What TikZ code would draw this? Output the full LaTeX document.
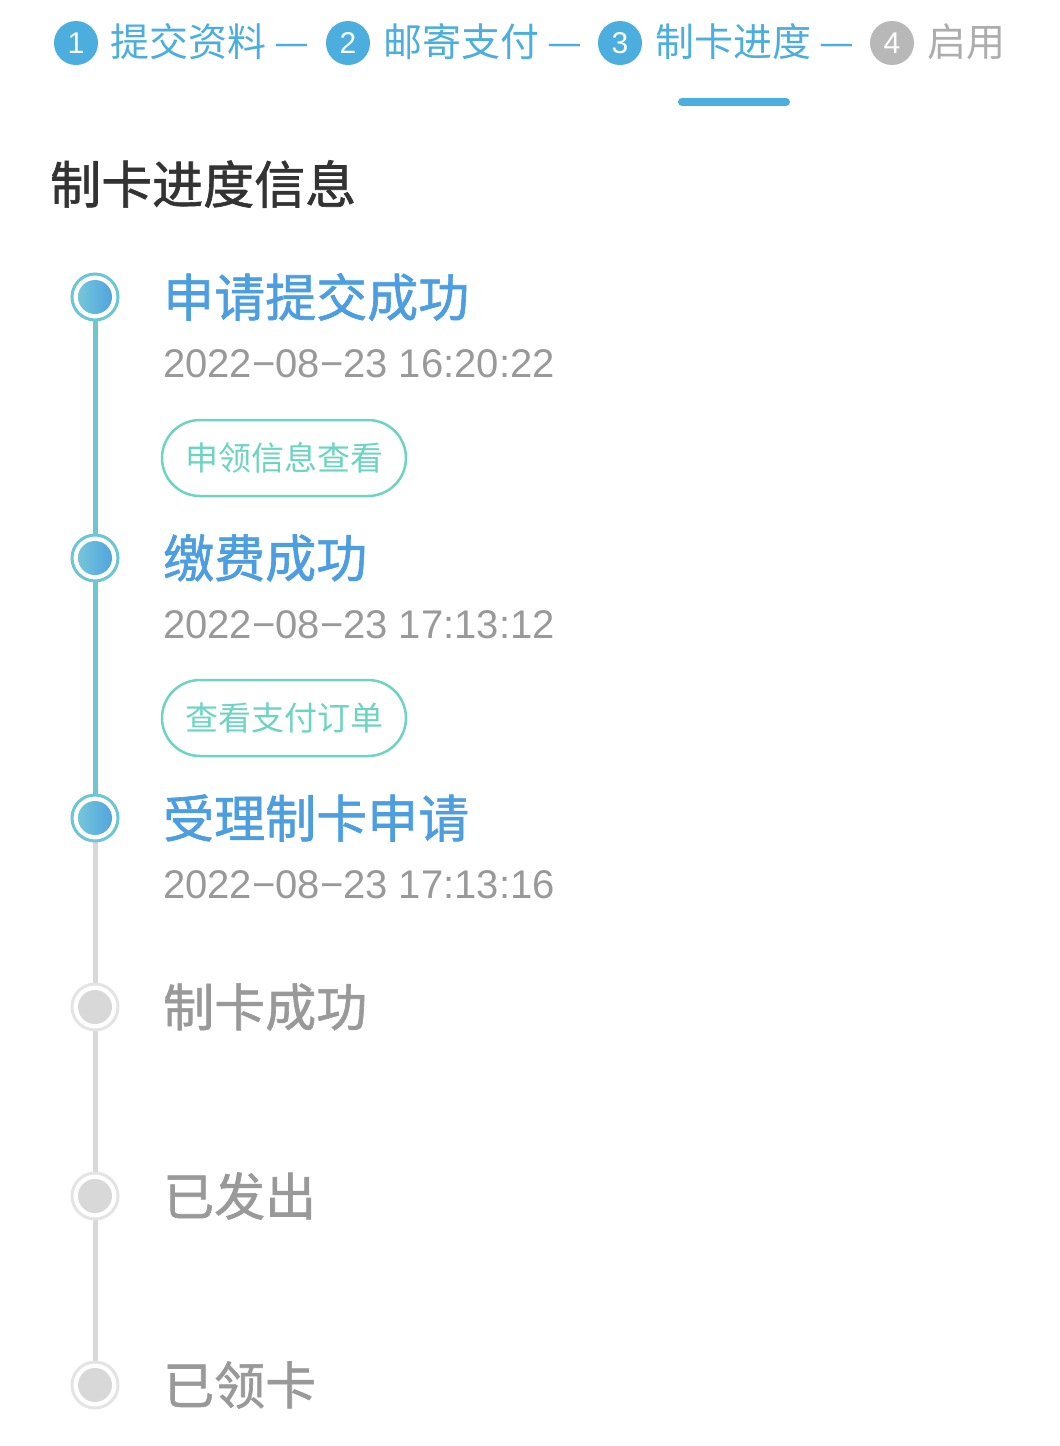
\documentclass[tikz,border=0pt]{standalone}
\usepackage{fontspec}
\setmainfont{Noto Sans CJK SC}
\newfontfamily\med[FakeBold=1.2]{Noto Sans CJK SC}
\newfontfamily\latn{Liberation Sans}
\definecolor{stepblue}{HTML}{4BAEDE}
\definecolor{titleblue}{HTML}{4C9EE0}
\definecolor{teal}{HTML}{6CC6D4}
\definecolor{btn}{HTML}{6DD4C2}
\definecolor{gtxt}{HTML}{999999}
\definecolor{gline}{HTML}{D8D8D8}
\definecolor{head}{HTML}{333333}
\begin{document}
\begin{tikzpicture}[x=1pt,y=-1pt,
 stepnum/.style={circle,fill=#1,minimum size=44pt,inner sep=0pt,text=white,font=\latn\fontsize{30}{30}\selectfont},
 steplbl/.style={anchor=west,inner sep=0pt,font=\fontsize{39}{39}\selectfont,text=#1},
 ttl/.style={anchor=west,inner sep=0pt,font=\med\fontsize{51}{51}\selectfont,text=#1},
 tstamp/.style={anchor=west,inner sep=0pt,font=\latn\fontsize{40}{40}\selectfont,text=gtxt},
 pill/.style={draw=btn,line width=2.5pt,rounded corners=38pt,minimum width=244pt,minimum height=76pt,text=btn,font=\fontsize{33}{33}\selectfont,inner sep=0pt},
 dotdone/.style={circle,draw=teal,line width=3pt,fill=white,minimum size=46pt,inner sep=0pt,path picture={\shade[left color=teal!90!white,right color=titleblue] (path picture bounding box.center) circle (17pt);}},
 dottodo/.style={circle,draw=gline!70!white,line width=3pt,fill=white,minimum size=46pt,inner sep=0pt,path picture={\fill[gline] (path picture bounding box.center) circle (17pt);}}]
\useasboundingbox[fill=white] (0,0) rectangle (1060,1446);
% steps header
\node[stepnum=stepblue] (s1) at (76,43) {1};
\node[steplbl=stepblue] (l1) at (110,42) {提交资料\hspace{8pt}—};
\node[stepnum=stepblue] (s2) at (348,43) {2};
\node[steplbl=stepblue] (l2) at (383,42) {邮寄支付\hspace{8pt}—};
\node[stepnum=stepblue] (s3) at (620,43) {3};
\node[steplbl=stepblue] (l3) at (655,42) {制卡进度\hspace{8pt}—};
\node[stepnum=gtxt!70!white] (s4) at (892,43) {4};
\node[steplbl=gtxt!80!white] (l4) at (927,42) {启用};
\coordinate (u1) at (682,102); \coordinate (u2) at (786,102);
\draw[stepblue,line width=8pt,line cap=round] (u1) -- (u2);
\node[anchor=west,inner sep=0pt,font=\med\fontsize{51}{51}\selectfont,text=head] (h) at (50,184) {制卡进度信息};
% timeline
\coordinate (d1) at (95,297); \coordinate (d2) at (95,558); \coordinate (d3) at (95,818);
\coordinate (d4) at (95,1007); \coordinate (d5) at (95,1196); \coordinate (d6) at (95,1385);
\draw[gline,line width=5pt] (d3) -- (d6);
\draw[teal,line width=5pt] (d1) -- (d3);
\node[dotdone] (c1) at (d1) {};
\node[dotdone] (c2) at (d2) {};
\node[dotdone] (c3) at (d3) {};
\node[dottodo] (c4) at (d4) {};
\node[dottodo] (c5) at (d5) {};
\node[dottodo] (c6) at (d6) {};
\node[ttl=titleblue] (t1) at (163,297) {申请提交成功};
\node[tstamp] (ts1) at (163,364) {2022−08−23 16:20:22};
\node[pill] (b1) at (284,458) {申领信息查看};
\node[ttl=titleblue] (t2) at (163,558) {缴费成功};
\node[tstamp] (ts2) at (163,625) {2022−08−23 17:13:12};
\node[pill] (b2) at (284,718) {查看支付订单};
\node[ttl=titleblue] (t3) at (163,818) {受理制卡申请};
\node[tstamp] (ts3) at (163,885) {2022−08−23 17:13:16};
\node[ttl=gtxt] (t4) at (163,1007) {制卡成功};
\node[ttl=gtxt] (t5) at (163,1196) {已发出};
\node[ttl=gtxt] (t6) at (163,1385) {已领卡};
\end{tikzpicture}
\end{document}
